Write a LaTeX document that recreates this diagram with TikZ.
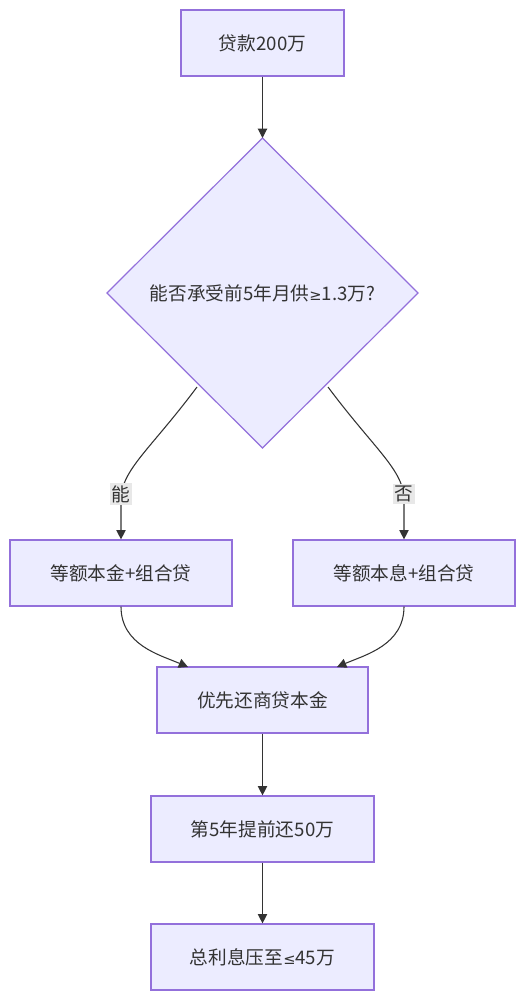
\documentclass[tikz,border=0pt]{standalone}
\usepackage{fontspec}
\setmainfont{Noto Sans CJK SC}
\newfontfamily\symfont{DejaVu Sans}
\usetikzlibrary{arrows.meta}
\definecolor{nfill}{HTML}{ECECFF}
\definecolor{nline}{HTML}{9370DB}
\definecolor{ink}{HTML}{333333}
\definecolor{lblbg}{HTML}{E8E8E8}
\begin{document}
\begin{tikzpicture}[x=0.75pt,y=-0.75pt,
  box/.style={draw=nline,fill=nfill,line width=0.9pt,text=ink,font=\fontsize{14}{16}\selectfont},
  edge/.style={draw=ink,line width=0.8pt,-{Triangle[length=7pt,width=7pt]}},
  lbl/.style={fill=lblbg,text=ink,inner sep=1.5pt,font=\fontsize{14}{16}\selectfont}]
\useasboundingbox (0,0) rectangle (521,996);
\node[box,minimum width=163*0.75pt,minimum height=66*0.75pt] (a) at (262.5,43) {贷款200万};
\draw[nline,fill=nfill,line width=0.9pt] (262.5,138) -- (418,293) -- (262.5,448) -- (107,293) -- cycle;
\node[text=ink,font=\fontsize{14}{16}\selectfont] (d) at (262.5,293) {能否承受前5年月供{\symfont\fontsize{11}{14}\selectfont ≥}1.3万?};
\coordinate (dt) at (262.5,138);
\coordinate (dl) at (197,387);
\coordinate (dr) at (328,387);
\node[box,minimum width=222*0.75pt,minimum height=66*0.75pt] (l) at (121,573) {等额本金+组合贷};
\node[box,minimum width=222*0.75pt,minimum height=66*0.75pt] (r) at (404,573) {等额本息+组合贷};
\node[box,minimum width=211*0.75pt,minimum height=66*0.75pt] (m) at (262.5,700) {优先还商贷本金};
\node[box,minimum width=223*0.75pt,minimum height=66*0.75pt] (f) at (262.5,829) {第5年提前还50万};
\node[box,minimum width=223*0.75pt,minimum height=66*0.75pt] (g) at (262.5,957) {总利息压至{\symfont\fontsize{11}{14}\selectfont ≤}45万};
\draw[edge] (a.south) -- (dt);
\draw[edge] (dl) .. controls (150,450) and (121,470) .. (121,500) -- (l.north);
\draw[edge] (dr) .. controls (375,450) and (404,470) .. (404,500) -- (r.north);
\node[lbl] (ly) at (121,494) {能};
\node[lbl] (ln) at (404,494) {否};
\draw[edge] (l.south) .. controls (121,645) and (160,655) .. (188,667);
\draw[edge] (r.south) .. controls (404,645) and (365,655) .. (337,667);
\draw[edge] (m.south) -- (f.north);
\draw[edge] (f.south) -- (g.north);
\end{tikzpicture}
\end{document}
